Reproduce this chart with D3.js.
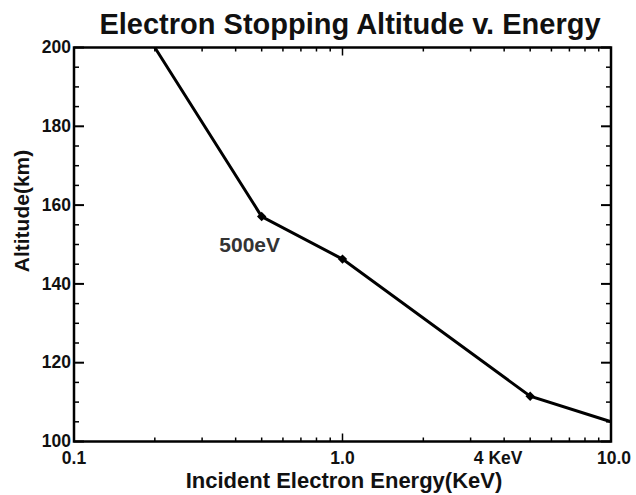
<!DOCTYPE html>
<html>
<head>
<meta charset="utf-8">
<script src="https://cdn.jsdelivr.net/npm/d3@7"></script>
<style>
  html, body { margin: 0; padding: 0; background: #fff; }
  svg text { font-family: "Liberation Sans", Arial, Helvetica, sans-serif; font-weight: bold; }
</style>
</head>
<body>
<svg id="chart" width="636" height="495"></svg>
<script>
// Data
const energyKeV   = [0.2, 0.5, 1.0, 5.0, 10.0];
const altitudeKm  = [200, 157.1, 146.3, 111.5, 105.0];
const markerIdx   = [1, 2, 3];
const xTickValues = [0.1, 1.0, 4, 10.0];
const xTickLabels = ["0.1", "1.0", "4 KeV", "10.0"];
const yTickValues = [100, 120, 140, 160, 180, 200];
const annotation  = { text: "500eV", energy: 0.5, altitude: 157.1 };

const svg = d3.select("#chart");
const margin = { left: 74, right: 25, top: 47.5, bottom: 53.5 };
const W = 636, H = 495;
const x = d3.scaleLog().domain([0.1, 10]).range([margin.left, W - margin.right]);
const y = d3.scaleLinear().domain([100, 200]).range([H - margin.bottom, margin.top]);

const x0 = x.range()[0], x1 = x.range()[1], y0 = y.range()[0], y1 = y.range()[1];

// minor ticks
const xMinor = [];
[0.1, 1].forEach(d => { for (let k = 2; k <= 9; k++) xMinor.push(d * k); });
const yMinor = d3.range(100, 201, 5).filter(v => v % 20 !== 0);

const ax = svg.append("g").attr("stroke", "#000");
xMinor.forEach(v => {
  ax.append("line").attr("x1", x(v)).attr("x2", x(v)).attr("y1", y0).attr("y2", y0 - 4).attr("stroke-width", 1.5);
  ax.append("line").attr("x1", x(v)).attr("x2", x(v)).attr("y1", y1).attr("y2", y1 + 4).attr("stroke-width", 1.5);
});
[1].forEach(v => {
  ax.append("line").attr("x1", x(v)).attr("x2", x(v)).attr("y1", y0).attr("y2", y0 - 8).attr("stroke-width", 1.5);
  ax.append("line").attr("x1", x(v)).attr("x2", x(v)).attr("y1", y1).attr("y2", y1 + 8).attr("stroke-width", 1.5);
});
yMinor.forEach(v => {
  ax.append("line").attr("x1", x0).attr("x2", x0 + 5).attr("y1", y(v)).attr("y2", y(v)).attr("stroke-width", 1.5);
  ax.append("line").attr("x1", x1).attr("x2", x1 - 5).attr("y1", y(v)).attr("y2", y(v)).attr("stroke-width", 1.5);
});
yTickValues.forEach(v => {
  ax.append("line").attr("x1", x0).attr("x2", x0 + 10).attr("y1", y(v)).attr("y2", y(v)).attr("stroke-width", 2);
  ax.append("line").attr("x1", x1).attr("x2", x1 - 10).attr("y1", y(v)).attr("y2", y(v)).attr("stroke-width", 2);
});
svg.append("rect").attr("x", x0).attr("y", y1).attr("width", x1 - x0).attr("height", y0 - y1)
  .attr("fill", "none").attr("stroke", "#000").attr("stroke-width", 2.5);

// tick labels
svg.append("g").selectAll("text").data(xTickValues).join("text")
  .attr("x", d => x(d)).attr("dx", d => d === 4 ? -6 : (d === 10 ? 3 : 0)).attr("y", y0 + 22)
  .attr("text-anchor", "middle").attr("font-size", 17.5).attr("fill", "#111")
  .text((d, i) => xTickLabels[i]);
svg.append("g").selectAll("text").data(yTickValues).join("text")
  .attr("x", x0 - 3).attr("y", d => y(d)).attr("dy", "0.32em")
  .attr("text-anchor", "end").attr("font-size", 17.5).attr("fill", "#111")
  .text(d => d);

// titles
svg.append("text").attr("x", 350).attr("y", 34).attr("text-anchor", "middle")
  .attr("font-size", 29).attr("fill", "#111").text("Electron Stopping Altitude v. Energy");
svg.append("text").attr("x", 344).attr("y", 488).attr("text-anchor", "middle")
  .attr("font-size", 22).attr("fill", "#111").text("Incident Electron Energy(KeV)");
svg.append("text").attr("transform", "translate(29,211) rotate(-90)").attr("text-anchor", "middle")
  .attr("font-size", 21).attr("fill", "#111").text("Altitude(km)");

// line
const line = d3.line().x((d, i) => x(energyKeV[i])).y((d, i) => y(altitudeKm[i]));
svg.append("path").datum(altitudeKm).attr("d", line)
  .attr("fill", "none").attr("stroke", "#000").attr("stroke-width", 3).attr("stroke-linejoin", "miter");

// markers (diamonds)
svg.append("g").selectAll("path").data(markerIdx).join("path")
  .attr("transform", i => `translate(${x(energyKeV[i])},${y(altitudeKm[i])}) rotate(45)`)
  .attr("d", d3.symbol().type(d3.symbolSquare).size(44))
  .attr("fill", "#000");

// annotation
svg.append("text").attr("x", x(annotation.energy) - 12).attr("y", y(annotation.altitude) + 35)
  .attr("text-anchor", "middle").attr("font-size", 21).attr("fill", "#333").text(annotation.text);
</script>
</body>
</html>
